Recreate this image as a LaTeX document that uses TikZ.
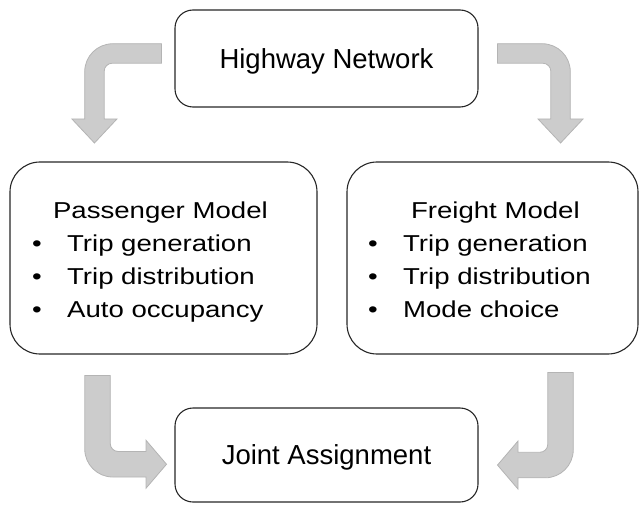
\documentclass[tikz,border=0pt]{standalone}
\usepackage{fontspec}
\setmainfont{Liberation Sans}
\newfontfamily\wideface[FakeStretch=1.2]{Liberation Sans}
\usetikzlibrary{calc}
\definecolor{arrowgray}{RGB}{204,204,204}
\definecolor{arrowedge}{RGB}{180,180,180}

\begin{document}
\begin{tikzpicture}[
x=1pt,
y=1pt,
stage/.style={
  draw=black!85,
  line width=1.1pt,
  rounded corners=18pt,
  minimum width=303pt,
  inner sep=0pt,
  font=\fontsize{27.5}{33}\selectfont,
  text height=19.5pt,
  text depth=0pt
  },
model/.style={
  draw=black!85,
  line width=1.1pt,
  rounded corners=30pt,
  minimum height=192pt,
  inner sep=0pt
  },
items/.style={
  anchor=base west,
  inner sep=0pt,
  font=\wideface\fontsize{23}{33}\selectfont
  },
pics/bend/.style args={#1/#2/#3/#4/#5}{code={
  \filldraw[fill=arrowgray, draw=arrowedge, line width=0.8pt]
    (0,#3) -- ({#1+#3-28},#3) arc[start angle=90, end angle=0, radius=28]
    -- ({#1+#3},-#2) -- ({#1+#4},-#2) -- (#1,{-#2-#5}) -- ({#1-#4},-#2)
    -- ({#1-#3},-#2) -- ({#1-#3},{-#3-8}) arc[start angle=0, end angle=90, radius=8]
    -- (0,-#3) -- cycle;
  }}
]
\useasboundingbox (0,0) rectangle (639,504);

\node[stage, minimum height=97pt] (hw) at (326.5,445.5) {Highway Network};
\node[model, minimum width=307pt] (pass) at (163.5,246) {};
\node[model, minimum width=291pt] (frt) at (492.5,246) {};
\node[stage, minimum height=94pt] (ja) at (326.5,49) {Joint Assignment};

\node[items] (pass-txt) at (31.9,286) {%
  \begin{tabular}[t]{@{}p{35pt}@{}l@{}}
  \multicolumn{2}{@{}l@{}}{\hspace*{20.9pt}Passenger Model}\\
  \textbullet & Trip generation\\
  \textbullet & Trip distribution\\
  \textbullet & Auto occupancy
  \end{tabular}};
\node[items] (frt-txt) at (367.9,286) {%
  \begin{tabular}[t]{@{}p{35pt}@{}l@{}}
  \multicolumn{2}{@{}l@{}}{\hspace*{42.9pt}Freight Model}\\
  \textbullet & Trip generation\\
  \textbullet & Trip distribution\\
  \textbullet & Mode choice
  \end{tabular}};

\pic[xscale=-1] (hw-pass) at ($(hw.west)+(-13,5)$) {bend=67/65.5/9.75/22.5/24};
\pic (hw-frt) at ($(hw.east)+(19,5)$) {bend=63/65.5/9.75/22.5/24};
\pic[rotate=90, xscale=-1] (pass-ja) at ($(pass.south)+(-66,-21)$) {bend=88.7/48.5/12.75/24/20.5};
\pic[rotate=-90] (frt-ja) at ($(frt.south)+(68,-18)$) {bend=92.5/42.5/12.75/24/20.5};

\end{tikzpicture}
\end{document}
